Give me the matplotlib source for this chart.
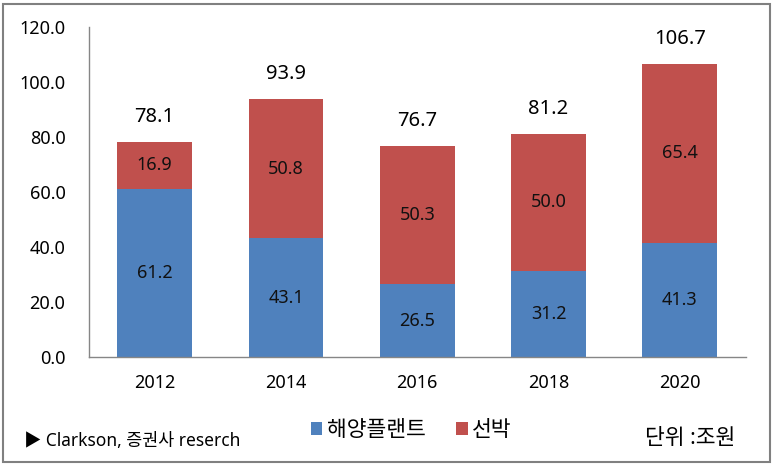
import matplotlib
matplotlib.use("Agg")
import matplotlib.pyplot as plt
from matplotlib.patches import Rectangle
import numpy as np

plt.rcParams['font.family'] = ['Noto Sans', 'Noto Sans CJK KR', 'DejaVu Sans']

years = ['2012', '2014', '2016', '2018', '2020']
offshore = [61.2, 43.1, 26.5, 31.2, 41.3]
ships = [16.9, 50.8, 50.3, 50.0, 65.4]
totals = [78.1, 93.9, 76.7, 81.2, 106.7]
yticks = [0, 20, 40, 60, 80, 100, 120]

blue = '#4F81BD'
red = '#C0504D'

fig = plt.figure(figsize=(7.75, 4.68), dpi=100)
ax = fig.add_axes([89/775, 1-357/468, (745.5-89)/775, (357-27)/468])

x = np.arange(len(years))
w = 0.57
b1 = ax.bar(x, offshore, w, color=blue, label='해양플랜트')
b2 = ax.bar(x, ships, w, bottom=offshore, color=red, label='선박')

for i in range(len(years)):
    ax.text(x[i], offshore[i]/2, f'{offshore[i]:.1f}', ha='center', va='center', fontsize=13, color='#111111')
    ax.text(x[i], offshore[i] + ships[i]/2, f'{ships[i]:.1f}', ha='center', va='center', fontsize=13, color='#111111')
    ax.annotate(f'{totals[i]:.1f}', (x[i], totals[i]), xytext=(0, 25), textcoords='offset pixels',
                ha='center', va='center', fontsize=14.5, color='black')

ax.set_xlim(-0.5, len(years)-0.5)
ax.set_ylim(0, 120)
ax.set_yticks(yticks)
ax.set_yticklabels([f'{v:.1f}' for v in yticks], fontsize=13)
ax.set_xticks(x)
ax.set_xticklabels(years, fontsize=13)
ax.tick_params(axis='both', length=0)
ax.tick_params(axis='y', pad=17)
ax.tick_params(axis='x', pad=12)
for s in ['top', 'right']:
    ax.spines[s].set_visible(False)
for s in ['left', 'bottom']:
    ax.spines[s].set_color('#868686')
    ax.spines[s].set_linewidth(1)

fig.legend(handles=[b1, b2], loc='center', bbox_to_anchor=(411/775, 1-431/468), ncol=2, frameon=False,
           fontsize=15.5, handlelength=0.55, handleheight=0.55, handletextpad=0.2, columnspacing=1.4)

fig.text(24/775, 1-441/468, '▶ Clarkson, 증권사 reserch', fontsize=12.5, va='center', ha='left')
fig.text(645/775, 1-438/468, '단위 :조원', fontsize=15.5, va='center', ha='left')

fig.patches.append(Rectangle((3/775, 1-462/468), (770-3)/775, (462-4)/468, transform=fig.transFigure,
                             fill=False, edgecolor='#808080', linewidth=1.5))

fig.savefig('out.png', dpi=100)
